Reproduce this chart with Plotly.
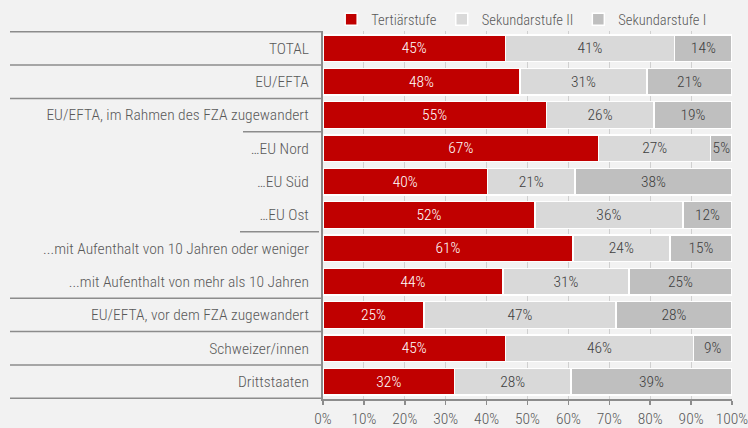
import plotly.graph_objects as go

categories = [
    "TOTAL",
    "EU/EFTA",
    "EU/EFTA, im Rahmen des FZA zugewandert",
    "…EU Nord",
    "…EU Süd",
    "…EU Ost",
    "...mit Aufenthalt von 10 Jahren oder weniger",
    "...mit Aufenthalt von mehr als 10 Jahren",
    "EU/EFTA, vor dem FZA zugewandert",
    "Schweizer/innen",
    "Drittstaaten",
]
tertiaer = [44.6, 48.2, 54.6, 67.4, 40.2, 51.8, 61.1, 44.0, 24.7, 44.6, 32.2]
sek2 = [41.4, 31.0, 26.3, 27.4, 21.4, 36.2, 23.7, 30.8, 46.9, 46.0, 28.4]
sek1 = [14.0, 20.8, 19.1, 5.2, 38.4, 12.0, 15.2, 25.2, 28.4, 9.4, 39.4]
series_names = ["Tertiärstufe", "Sekundarstufe II", "Sekundarstufe I"]
x_ticks = [0, 10, 20, 30, 40, 50, 60, 70, 80, 90, 100]
x_ticklabels = [f"{v}%" for v in x_ticks]

FONT = "Roboto Condensed, Liberation Sans Narrow, Arial Narrow, sans-serif"
FS = 15.5
colors = ["#c00000", "#d9d9d9", "#bfbfbf"]
text_colors = ["#ffffff", "#404040", "#404040"]

fig = go.Figure()
for name, vals, c, tc in zip(series_names, [tertiaer, sek2, sek1], colors, text_colors):
    fig.add_trace(go.Bar(
        y=categories, x=vals, orientation="h", name=name,
        marker=dict(color=c, line=dict(color="white", width=1.5)),
        texttemplate="%{x:.0f}%", textposition="inside", insidetextanchor="middle",
        textfont=dict(family=FONT, size=FS, color=tc, weight=300),
        hoverinfo="skip",
    ))

# separator lines in the label area
full_x0 = -(323 - 10) / 409
lines = [(-0.5, full_x0, 0), (0.5, full_x0, 0), (1.5, full_x0, 0),
         (2.5, -(323 - 243) / 409, 0), (5.5, -(323 - 240) / 409, -(323 - 319) / 409),
         (7.5, full_x0, 0), (8.5, full_x0, 0), (9.5, full_x0, 0), (10.5, full_x0, 0)]
for yv, x0, x1 in lines:
    fig.add_shape(type="line", xref="paper", yref="y", x0=x0, x1=x1, y0=yv, y1=yv,
                  line=dict(color="#8c8c8c", width=1.5), layer="above")

fig.update_layout(
    barmode="stack", bargap=0.2,
    width=748, height=428,
    margin=dict(l=323, r=16, t=31, b=29, autoexpand=False),
    paper_bgcolor="#f2f2f2", plot_bgcolor="#f2f2f2",
    font=dict(family=FONT, size=FS, color="#595959", weight=300),
    uniformtext=dict(minsize=FS, mode="show"),
    legend=dict(orientation="h", x=0.02, xanchor="left", y=1.075, yanchor="top",
                font=dict(family=FONT, size=14.5, color="#595959", weight=300),
                bgcolor="rgba(0,0,0,0)", itemwidth=30, traceorder="normal"),
    showlegend=True,
)
fig.update_xaxes(range=[0, 100], tickvals=x_ticks, ticktext=x_ticklabels,
                 showgrid=True, gridcolor="#d0d0d0", gridwidth=1,
                 showline=True, linecolor="#8c8c8c", linewidth=2,
                 ticks="outside", ticklen=4, tickcolor="#8c8c8c", tickwidth=1.5,
                 zeroline=False, fixedrange=True, ticklabeloverflow="allow",
                 tickfont=dict(family=FONT, size=FS, color="#595959", weight=300))
fig.update_yaxes(autorange="reversed", showline=True, linecolor="#8c8c8c", linewidth=2,
                 showgrid=False, ticks="", ticklabelstandoff=9, fixedrange=True,
                 tickfont=dict(family=FONT, size=FS, color="#595959", weight=300))

fig.write_html("out.html", config={"displayModeBar": False, "staticPlot": True},
               post_script="document.body.style.margin='0';document.body.style.background='#f2f2f2';")
